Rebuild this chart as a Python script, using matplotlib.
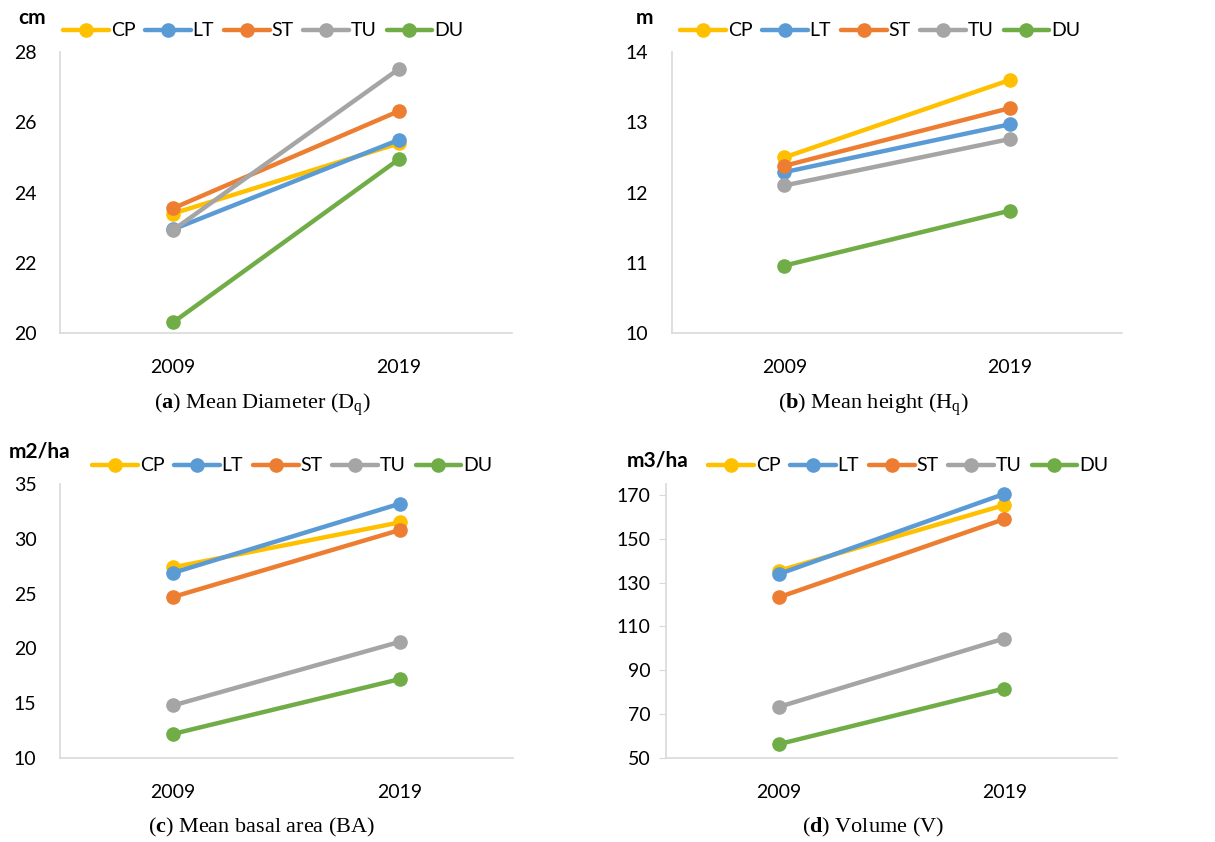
import matplotlib
matplotlib.use("Agg")
import matplotlib.pyplot as plt

W, H = 1215, 842

years = ["2009", "2019"]
series = ["CP", "LT", "ST", "TU", "DU"]
colors = ["#FFC000", "#5B9BD5", "#ED7D31", "#A5A5A5", "#70AD47"]

# values per series: [2009, 2019]
diam = {"CP": [23.4, 25.4], "LT": [22.95, 25.5], "ST": [23.55, 26.32],
        "TU": [22.93, 27.52], "DU": [20.3, 24.95]}
height = {"CP": [12.5, 13.6], "LT": [12.29, 12.97], "ST": [12.38, 13.2],
          "TU": [12.1, 12.76], "DU": [10.96, 11.74]}
basal = {"CP": [27.4, 31.5], "LT": [26.9, 33.2], "ST": [24.7, 30.8],
         "TU": [14.8, 20.6], "DU": [12.2, 17.2]}
volume = {"CP": [135.4, 165.4], "LT": [133.9, 170.5], "ST": [123.3, 159.0],
          "TU": [73.3, 104.5], "DU": [56.3, 81.7]}

plt.rcParams['font.family'] = ['Lato', 'DejaVu Sans']
plt.rcParams['mathtext.fontset'] = 'custom'
plt.rcParams['mathtext.rm'] = 'Liberation Serif'
plt.rcParams['mathtext.bf'] = 'Liberation Serif:bold'

panels = [
    # data, unit, ylim, yticks, axes box (px l, t, r, b), legend (x0, y), unit pos, caption
    (diam, "cm", (20, 28), range(20, 29, 2), (60, 52, 512, 333), (63, 31), (18, 18),
     r"($\mathbf{a}$) Mean Diameter (D$_\mathrm{q}$)", (262, 405)),
    (height, "m", (10, 14), range(10, 15, 1), (672, 52, 1122, 333), (680, 31), (636, 18),
     r"($\mathbf{b}$) Mean height (H$_\mathrm{q}$)", (873, 405)),
    (basal, "m2/ha", (10, 35), range(10, 36, 5), (60, 484, 513, 758), (92, 466), (9, 452),
     r"($\mathbf{c}$) Mean basal area (BA)", (262, 827)),
    (volume, "m3/ha", (50, 175), range(50, 171, 20), (666, 484, 1117, 758), (708, 466), (627, 460),
     r"($\mathbf{d}$) Volume (V)", (873, 827)),
]

fig = plt.figure(figsize=(W / 100, H / 100), dpi=100)

for k, (data, unit, ylim, yticks, box, leg, upos, cap, cpos) in enumerate(panels):
    l, t, r, b = box
    ax = fig.add_axes([l / W, 1 - b / H, (r - l) / W, (b - t) / H])
    x = range(len(years))
    for name, c in zip(series, colors):
        ax.plot(x, data[name], color=c, linewidth=3.2, marker="o", markersize=9.5,
                label=name, solid_capstyle="round")
    ax.set_xlim(-0.5, 1.5)
    ax.set_ylim(*ylim)
    ax.set_yticks(list(yticks))
    ax.set_xticks(list(x))
    ax.set_xticklabels(years)
    for s in ["top", "right"]:
        ax.spines[s].set_visible(False)
    for s in ["left", "bottom"]:
        ax.spines[s].set_color("#d9d9d9")
        ax.spines[s].set_linewidth(1.2)
    ax.tick_params(axis="x", length=0, labelsize=14, pad=19)
    if k == 3:
        ax.tick_params(axis="y", length=5, color="#d9d9d9", labelsize=14, pad=6)
    else:
        ax.tick_params(axis="y", length=0, labelsize=14, pad=17)

    x0, yl = leg
    ax.legend(loc="center left", bbox_to_anchor=(x0 / W, 1 - yl / H),
              bbox_transform=fig.transFigure, ncol=5, frameon=False, fontsize=14,
              handlelength=2.35, handletextpad=0.1, columnspacing=0.5, borderaxespad=0,
              borderpad=0)

    fig.text(upos[0] / W, 1 - upos[1] / H, unit, fontsize=15, fontweight="bold",
             ha="left", va="center")
    fig.text(cpos[0] / W, 1 - cpos[1] / H, cap, fontsize=16, family="Liberation Serif",
             ha="center", va="center")

fig.savefig("out.png", dpi=100)
